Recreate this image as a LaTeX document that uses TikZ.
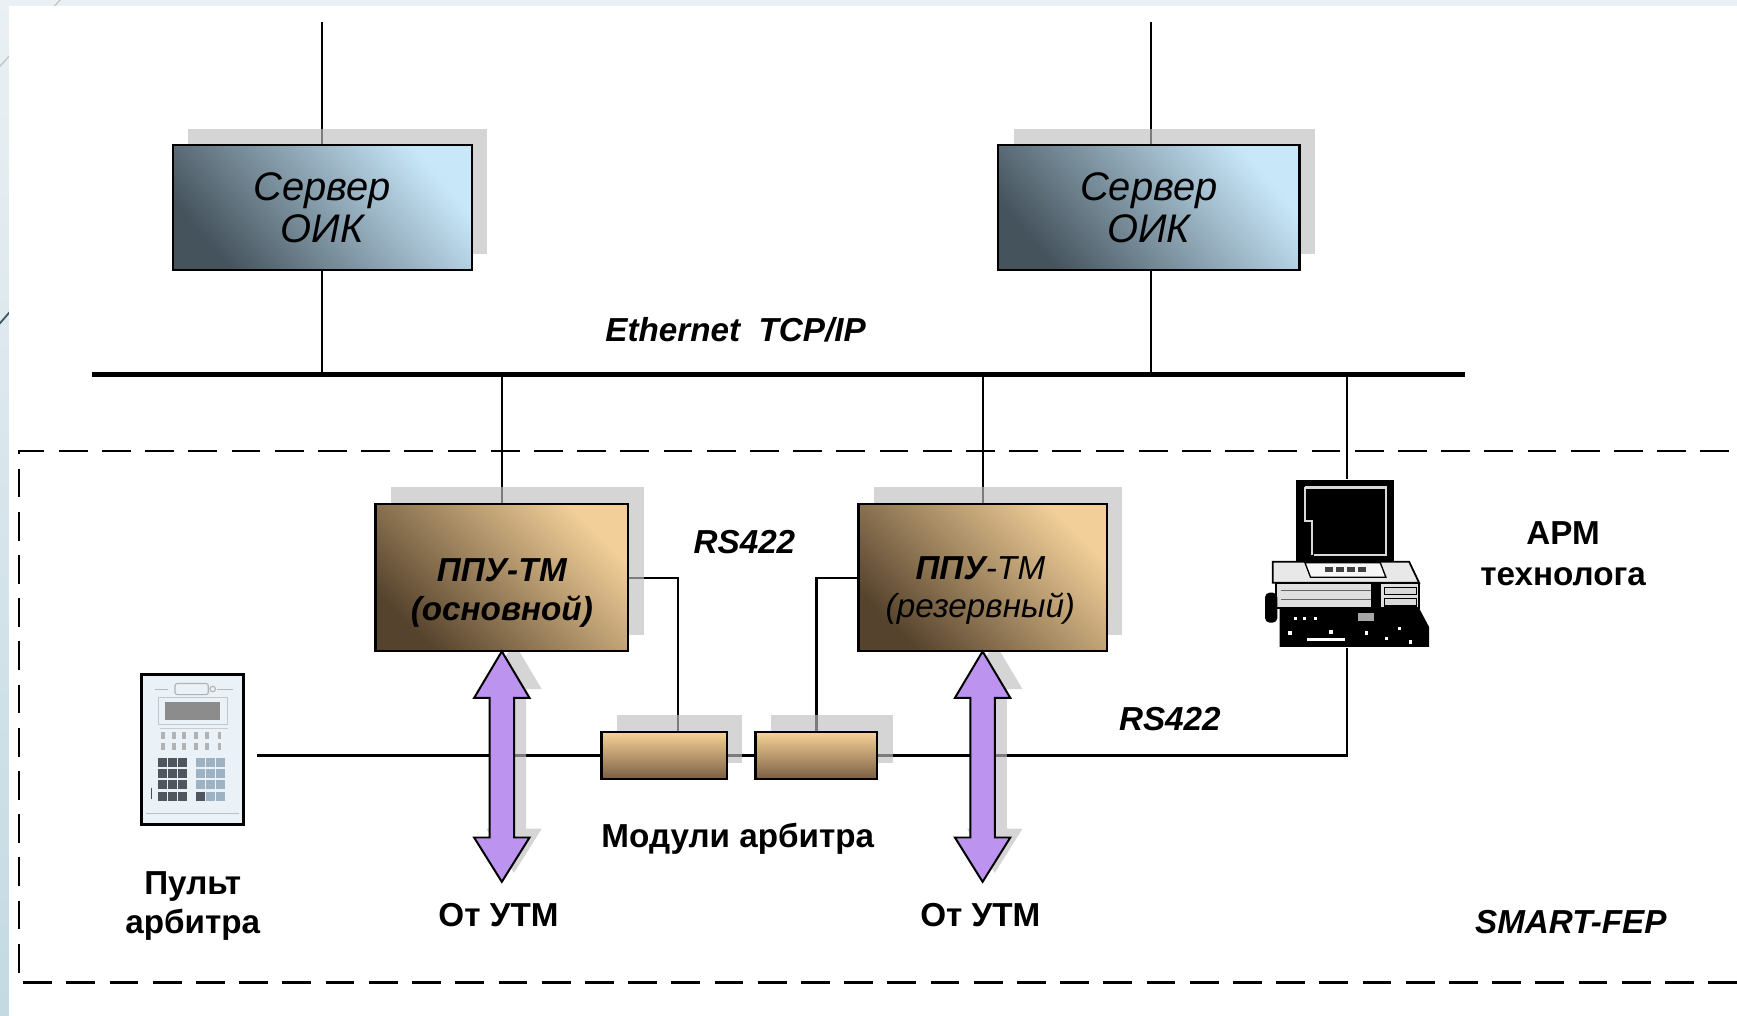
\documentclass[tikz,border=0pt]{standalone}
\usepackage{fontspec}
\setmainfont{Liberation Sans}
\usetikzlibrary{calc}

\definecolor{stripTop}{HTML}{EAF0F3}
\definecolor{stripBot}{HTML}{C3DAE3}
\definecolor{decoLine}{HTML}{3D5566}
\definecolor{srvDark}{HTML}{45535D}
\definecolor{srvMid}{HTML}{97ADBD}
\definecolor{srvLight}{HTML}{C8E8FA}
\definecolor{ppuDark}{HTML}{56432D}
\definecolor{ppuMid}{HTML}{B08C5E}
\definecolor{ppuLight}{HTML}{F2CF98}
\definecolor{modTop}{HTML}{F8D499}
\definecolor{modMid}{HTML}{E6BC80}
\definecolor{modBot}{HTML}{7A5E42}
\definecolor{arrowFill}{HTML}{BC93EE}
\definecolor{calcBg}{HTML}{EAF2F8}
\definecolor{keyDark}{HTML}{4F565E}
\definecolor{keyLight}{HTML}{9DB3C4}

\pgfdeclarelayer{backdrop}
\pgfdeclarelayer{wires}
\pgfdeclarelayer{shades}
\pgfsetlayers{backdrop,wires,shades,main}

% soft drop shadow up and to the right of a node
\newcommand\boxshade[1]{%
  \fill[shadowfill] ([shift={(14,-15)}]#1.south west) rectangle ([shift={(14,-15)}]#1.north east);}

\begin{document}
\begin{tikzpicture}[x=0.5pt,y=-0.5pt,
  wire/.style={line width=1pt},
  busline/.style={line width=2.3pt},
  framedash/.style={line width=1.1pt, dash pattern=on 13pt off 6.5pt},
  shadowfill/.style={fill=black!25, opacity=0.65},
  server/.style={draw, line width=1pt, inner sep=0pt, outer sep=0pt,
    minimum height=56.5pt, align=center,
    bottom color=srvDark, middle color=srvMid, top color=srvLight, shading angle=-50,
    font=\fontsize{18}{19}\selectfont\itshape},
  ppu/.style={draw, line width=1pt, inner sep=0pt, outer sep=0pt,
    minimum height=66.5pt,
    bottom color=ppuDark, middle color=ppuMid, top color=ppuLight, shading angle=-45},
  module/.style={draw, line width=1pt, inner sep=0pt, outer sep=0pt,
    minimum height=21.5pt,
    bottom color=modBot, middle color=modMid, top color=modTop},
  lbl/.style={align=center, inner sep=0pt, font=\fontsize{15}{17.5}\selectfont\bfseries},
  lbli/.style={align=center, inner sep=0pt, font=\fontsize{15}{17.5}\selectfont\bfseries\itshape},
  twoway/.style={fill=arrowFill, draw=black, line width=0.9pt, line join=miter},
]
\useasboundingbox (0,0) rectangle (1568,917);

% slide background strips and decoration lines
\begin{pgfonlayer}{backdrop}
\begin{scope}
\clip (0,0) rectangle (1568,917);
\shade[top color=stripTop, bottom color=stripBot] (0,0) rectangle (1568,917);
\draw[gray!45, line width=0.6pt] (56,-2) -- (-2,62);
\draw[decoLine, line width=0.8pt] (-2,294) -- (12,278);
\fill[white] (8,5) rectangle (1568,917);
\end{scope}
\end{pgfonlayer}

% ---------- nodes ----------
\node[server, minimum width=135pt] (s1) at (291,187.5) {Сервер\\ОИК};
\node[server, minimum width=136pt] (s2) at (1037,187.5) {Сервер\\ОИК};

\node[ppu, minimum width=114pt] (p1) at (453,521.5) {};
\node[ppu, minimum width=112pt] (p2) at (887,521.5) {};
\node[lbli] (p1t) at (453,535) {ППУ-ТМ\\(основной)};
\node[align=center, inner sep=0pt, font=\fontsize{15}{17}\selectfont\itshape] (p2t) at (885,533)
  {{\bfseries ППУ}-ТМ\\(резервный)};

\node[module, minimum width=56.5pt] (m1) at (599.5,682) {};
\node[module, minimum width=55pt] (m2) at (737,682) {};

\node[draw, line width=1.2pt, fill=calcBg, minimum width=46pt, minimum height=67.5pt,
  inner sep=0pt, outer sep=0pt] (calc) at (174,676.5) {};
\node[minimum width=75pt, minimum height=76.5pt, inner sep=0pt, outer sep=0pt] (pc) at (1216,508.5) {};

\coordinate (busL) at (83,338);
\coordinate (busR) at (1322,338);
\coordinate (s1up) at (291,20);
\coordinate (s2up) at (1039,20);

% ---------- connectors ----------
\begin{pgfonlayer}{wires}
\draw[busline] (busL) -- (busR);
\draw[wire] (s1.north) -- (s1up);
\draw[wire] ([xshift=1pt]s2.north) -- (s2up);
\draw[wire] (s1.south) -- (s1.south |- busL);
\draw[wire] ([xshift=1pt]s2.south) -- ([xshift=1pt]s2.south |- busL);
\draw[wire] (p1.north) -- (p1.north |- busL);
\draw[wire] (p2.north) -- (p2.north |- busL);
\draw[wire] (pc.north) -- (pc.north |- busL);
\draw[wire] (p1.east) -| ([xshift=6.25pt]m1.north);
\draw[wire] (p2.west) -| (m2.north);
\draw[wire] ([xshift=6pt]calc.east |- m1.west) -- (m1.west);
\draw[wire] (m1.east) -- (m2.west);
\draw[wire] (m2.east) -| (pc.south);
\end{pgfonlayer}

% ---------- shadows ----------
\begin{pgfonlayer}{shades}
\boxshade{s1}
\boxshade{s2}
\boxshade{p1}
\boxshade{p2}
\boxshade{m1}
\boxshade{m2}
\fill[shadowfill] ([shift={(11,-8)}]p1.south) -- ++(25,42) -- ++(-14,0) -- ++(0,126) -- ++(14,0)
  -- ++(-25,40) -- ++(-25,-40) -- ++(14,0) -- ++(0,-126) -- ++(-14,0) -- cycle;
\fill[shadowfill] ([shift={(11,-8)}]p2.south) -- ++(25,42) -- ++(-14,0) -- ++(0,126) -- ++(14,0)
  -- ++(-25,40) -- ++(-25,-40) -- ++(14,0) -- ++(0,-126) -- ++(-14,0) -- cycle;
\end{pgfonlayer}

% ---------- two-way arrows from the UTM ----------
\filldraw[twoway] (p1.south) -- ++(25,42) -- ++(-14,0) -- ++(0,126) -- ++(14,0)
  -- ++(-25,40) -- ++(-25,-40) -- ++(14,0) -- ++(0,-126) -- ++(-14,0) -- cycle;
\filldraw[twoway] (p2.south) -- ++(25,42) -- ++(-14,0) -- ++(0,126) -- ++(14,0)
  -- ++(-25,40) -- ++(-25,-40) -- ++(14,0) -- ++(0,-126) -- ++(-14,0) -- cycle;

% ---------- arbiter console keypad ----------
\draw[gray!60, line width=0.5pt, rounded corners=1pt] (158,617) rectangle (188,627);
\draw[gray!55, line width=0.5pt] (140,622) -- (152,622) (196,622) -- (210,622);
\draw[gray!60, line width=0.5pt] (192,622) circle (2.5);
\draw[gray!45, line width=0.5pt] (143,630) rectangle (205,654);
\fill[black!45] (149,634) rectangle (199,650);
\draw[gray!40, line width=0.5pt] (144,658) -- (206,658);
\foreach \x in {147,157,166,177,187,198}{
  \fill[gray!60] (\x-1.5,661) rectangle (\x+1.5,667);
  \fill[gray!60] (\x-1.5,671) rectangle (\x+1.5,677);
}
\foreach \y in {688,698,708.5,719}{
  \foreach \x in {147,156,165}{\fill[keyDark] (\x-4,\y-4) rectangle (\x+4,\y+4);}
  \foreach \x in {181,190,199}{\fill[keyLight] (\x-4,\y-4) rectangle (\x+4,\y+4);}
}
\fill[keyDark] (177,715) rectangle (185,723);
\draw[black!70, line width=0.6pt] (137,711) -- (137,721);
\draw[gray!50, line width=0.5pt] (132,734) -- (216,734);

% ---------- operator workstation ----------
\fill[black] (1170,433) rectangle (1258,508);
\draw[gray!30, line width=1pt] (1178,440) -- (1251,440) -- (1251,501) -- (1186,501);
\draw[gray!30, line width=0.8pt] (1178,440) -- (1178,470) -- (1184,470) -- (1184,501);
\filldraw[fill=gray!18, draw=black, line width=0.8pt] (1149,507) -- (1272,507) -- (1281,526) -- (1149,526) -- cycle;
\filldraw[fill=gray!6, draw=black, line width=0.6pt] (1178,508) -- (1246,508) -- (1251,521) -- (1183,521) -- cycle;
\foreach \x in {1196,1206,1216,1226}{\fill[black!75] (\x,512) rectangle ++(7,4);}
\filldraw[fill=gray!25, draw=black, line width=0.8pt] (1152,526) rectangle (1281,549);
\draw[black!60, line width=0.6pt] (1156,533) -- (1238,533) (1156,541) -- (1238,541);
\fill[black] (1238,527) rectangle (1247,548);
\filldraw[fill=gray!30, draw=black, line width=0.5pt] (1250,530) rectangle (1279,537);
\filldraw[fill=gray!30, draw=black, line width=0.5pt] (1250,540) rectangle (1279,547);
\fill[black] (1155,549) -- (1281,549) -- (1290,566) -- (1290,584) -- (1155,584) -- cycle;
\fill[white] (1180,576) rectangle (1214,579);
\fill[gray!70] (1226,553) rectangle (1240,561);
\foreach \x/\y in {1168/557,1176/557,1186/557,1163/570,1200/569,1232/570,1250/575,1262/566,1272/578}{
  \fill[white] (\x,\y) rectangle ++(3,3);}
\fill[black, rounded corners=2pt] (1142,535) rectangle (1153,562);

% ---------- SMART-FEP boundary ----------
\begin{scope}
\clip (0,0) rectangle (1568,917);
\draw[framedash] (1600,407) -- (17,407) -- (17,887) -- (1600,887);
\end{scope}

% ---------- labels ----------
\node[lbli] (eth) at (664,298) {Ethernet~~TCP/IP};
\node[lbli] (rs1) at (672,489) {RS422};
\node[lbli] (rs2) at (1056,649) {RS422};
\node[lbl] (mod) at (666,757) {Модули арбитра};
\node[lbl] (utm1) at (450,826) {От УТМ};
\node[lbl] (utm2) at (885,826) {От УТМ};
\node[lbl] (pult) at (174,818) {Пульт\\арбитра};
\node[lbl, font=\fontsize{15}{18.5}\selectfont\bfseries] (arm) at (1411,499.5) {АРМ\\технолога};
\node[lbli] (smart) at (1418,832) {SMART-FEP};
\end{tikzpicture}
\end{document}
